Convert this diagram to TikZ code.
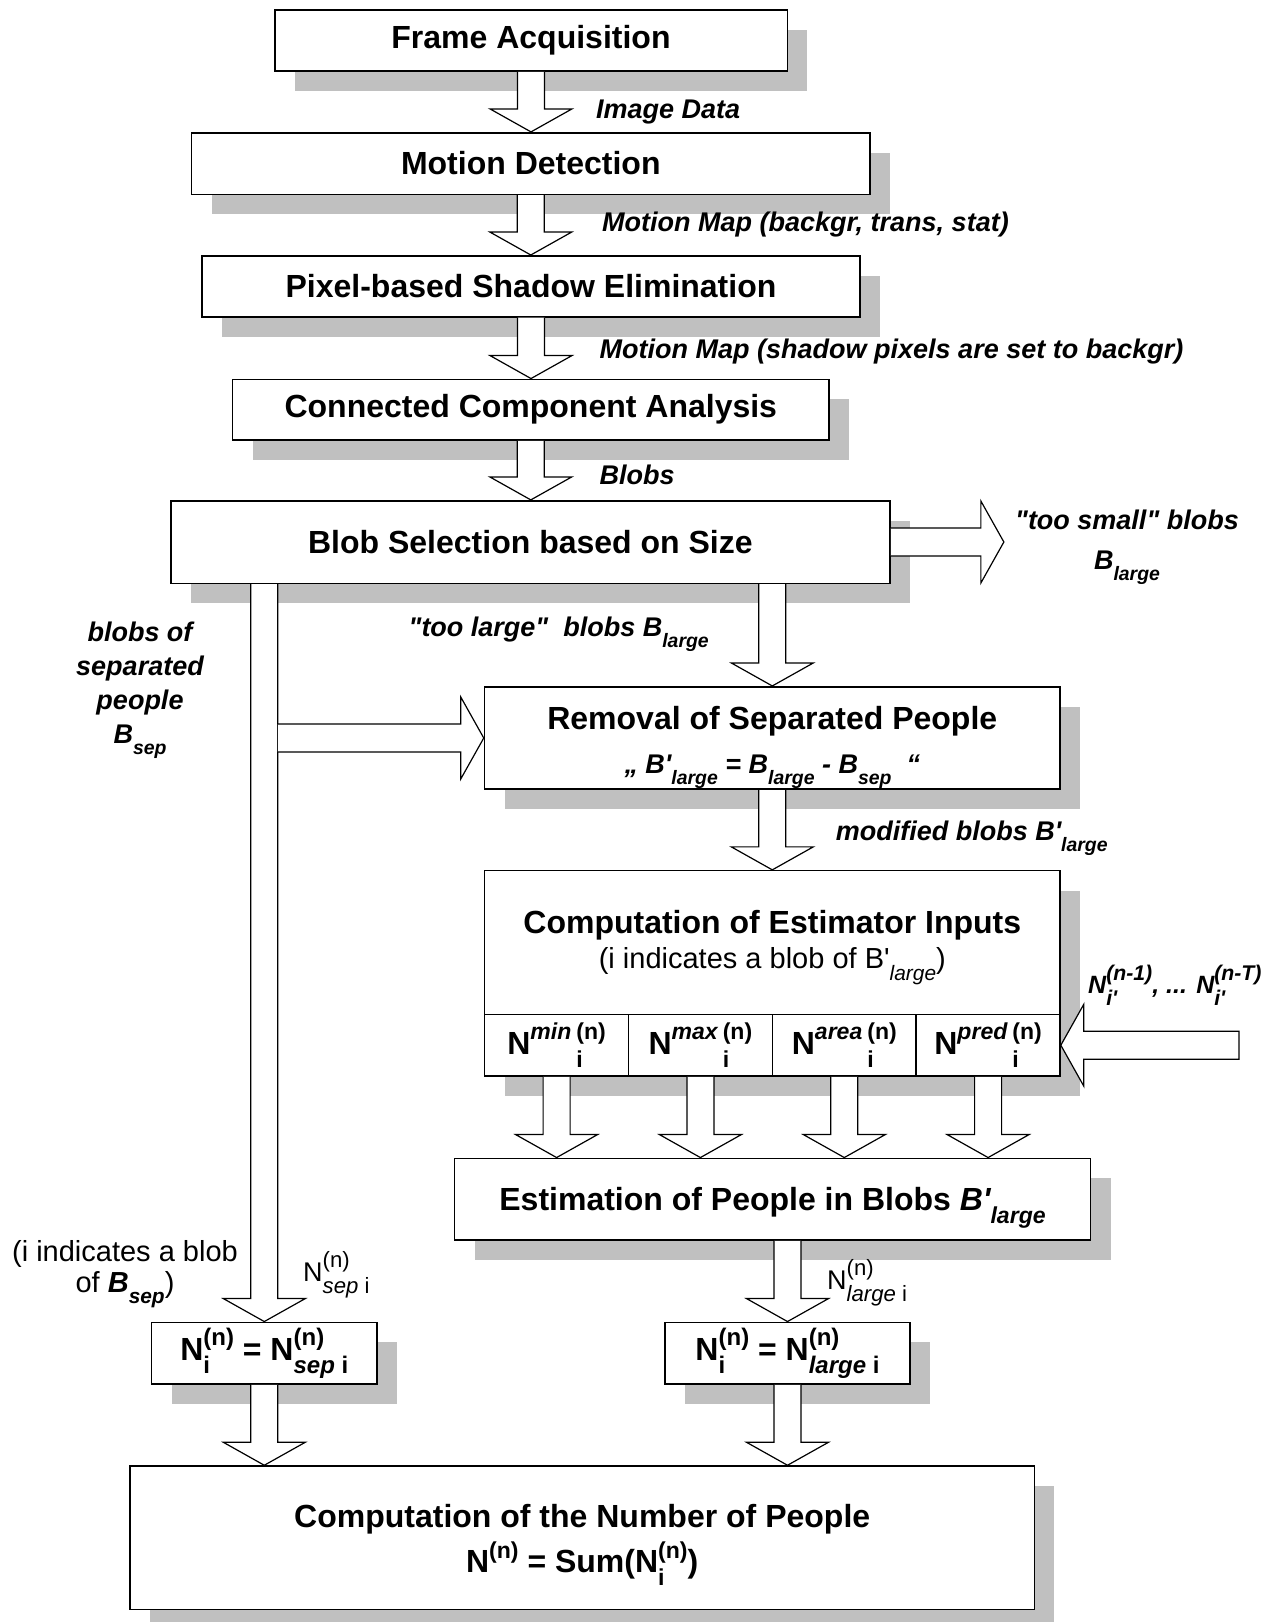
\documentclass[tikz,border=0pt]{standalone}
\usepackage{fontspec}
\setmainfont{Liberation Sans}[Ligatures=TeXOff]
\usetikzlibrary{shadows,calc}
\definecolor{shgray}{RGB}{192,192,192}
\makeatletter
\newcommand\stk[3][0.72]{{%
  \dimen@=\f@size pt \dimen@=#1\dimen@
  \edef\stksz{\strip@pt\dimen@}%
  \fontsize{\stksz}{\stksz}\selectfont
  \setbox0\hbox{\raisebox{-0.55em}{#2}}%
  \setbox2\hbox{\raisebox{0.64em}{#3}}%
  \ifdim\wd0>\wd2 \rlap{\box2}\box0 \else\rlap{\box0}\box2 \fi}}
\makeatother
\newcommand\boxfont{\fontsize{32}{44}\selectfont\bfseries}
\newcommand\labfont{\fontsize{27}{34}\selectfont\bfseries\itshape}
\newcommand\regfont{\fontsize{29}{31}\selectfont}
\newcommand\nfont{\fontsize{32}{34}\selectfont\bfseries}
\newcommand\nlabfont{\fontsize{27}{30}\selectfont}
\newcommand\hisfont{\fontsize{25}{28}\selectfont\bfseries\itshape}
\newcommand\bdown[2]{%
  \path[barrow] let \p1=#1, \p2=#2 in
    (\x1-13.5pt,\y1) -- (\x1-13.5pt,\y2+23pt) -- (\x1-41pt,\y2+23pt) -- (\x1,\y2)
    -- (\x1+41pt,\y2+23pt) -- (\x1+13.5pt,\y2+23pt) -- (\x1+13.5pt,\y1);}
\newcommand\bright[2]{%
  \path[barrow] let \p1=#1, \p2=#2 in
    (\x1,\y1+14pt) -- (\x2-23pt,\y1+14pt) -- (\x2-23pt,\y1+41pt) -- (\x2,\y1)
    -- (\x2-23pt,\y1-41pt) -- (\x2-23pt,\y1-14pt) -- (\x1,\y1-14pt);}
\newcommand\bleft[2]{%
  \path[barrow] let \p1=#1, \p2=#2 in
    (\x1,\y1+14pt) -- (\x2+23pt,\y1+14pt) -- (\x2+23pt,\y1+41pt) -- (\x2,\y1)
    -- (\x2+23pt,\y1-41pt) -- (\x2+23pt,\y1-14pt) -- (\x1,\y1-14pt) -- cycle;}
\begin{document}
\begin{tikzpicture}[x=1pt,y=-1pt,
  box/.style={draw, line width=1.6pt, fill=white, inner sep=0pt, align=center,
    general shadow={fill=shgray, shadow xshift=20pt, shadow yshift=-20pt}, font=\boxfont},
  cell/.style={draw, line width=1.6pt, inner sep=0pt, minimum width=143.85pt,
    minimum height=61.7pt, font=\boxfont},
  lab/.style={inner sep=0pt, font=\labfont},
  barrow/.style={draw=black, fill=white, line width=1.2pt, line join=miter, miter limit=10}]
\fill[white] (0,0) rectangle (1284,1622);
\useasboundingbox (0,0) rectangle (1284,1622);
% boxes
\node[box, minimum width=512.6pt, minimum height=61pt] (fa) at (531,40.5) {Frame Acquisition};
\node[box, minimum width=678.5pt, minimum height=61.6pt] (md) at (530.8,163.5) {Motion Detection};
\node[box, minimum width=658pt, minimum height=61pt] (ps) at (531,286.3) {Pixel-based Shadow Elimination};
\node[box, minimum width=596.4pt, minimum height=60.7pt] (cc) at (530.8,409.7) {Connected Component Analysis};
\node[box, minimum width=719.3pt, minimum height=82.6pt] (bs) at (530.4,542) {Blob Selection based on Size};
\node[box, minimum width=575.5pt, minimum height=102.5pt] (rm) at (772.3,738)
  {\rule{0pt}{42pt}Removal of Separated People\\{\fontsize{27}{28}\selectfont\itshape „ B'\stk{large}{} = B\stk{large}{} - B\stk{sep}{}\ \ “}};
\node[box, minimum width=575.5pt, minimum height=205.3pt] (ce) at (772.3,973.3) {};
\node[font=\boxfont, inner sep=0pt] (cet) at (772.3,925) {Computation of Estimator Inputs};
\node[font=\regfont, inner sep=0pt] (ces) at (772.3,966) {(i indicates a blob of B'\stk{\itshape large}{})};
\node[cell] (c1) at (556.6,1045.2) {N\stk{}{\itshape min}\hspace{5pt}\stk{i}{(n)}};
\node[cell] (c2) at (700.4,1045.2) {N\stk{}{\itshape max}\hspace{5pt}\stk{i}{(n)}};
\node[cell] (c3) at (844.3,1045.2) {N\stk{}{\itshape area}\hspace{5pt}\stk{i}{(n)}};
\node[cell] (c4) at (988.1,1045.2) {N\stk{}{\itshape pred}\hspace{5pt}\stk{i}{(n)}};
\node[box, minimum width=636pt, minimum height=81.7pt, text depth=0pt] (es) at (772.5,1199.2)
  {Estimation of People in Blobs {\itshape B'}\stk{\itshape large}{}};
\node[box, minimum width=225.5pt, minimum height=61.7pt, font=\nfont] (ns) at (264.3,1353.2)
  {N\stk[0.75]{i}{(n)} = N\stk[0.75]{{\itshape sep} i}{(n)}};
\node[box, minimum width=245pt, minimum height=61.7pt, font=\nfont] (nl) at (787.5,1353.2)
  {N\stk[0.75]{i}{(n)} = N\stk[0.75]{{\itshape large} i}{(n)}};
\node[box, minimum width=904.4pt, minimum height=143.3pt, font=\fontsize{32}{45}\selectfont\bfseries] (fn) at (582.2,1537.7)
  {\rule{0pt}{38pt}Computation of the Number of People\\N\stk{}{(n)} = Sum(N\stk{i}{(n)})};
% free ends
\coordinate (smalltip) at ($(bs.east)+(113,0)$);
\coordinate (prevsrc) at (1239,1045.2);
% block arrows
\bdown{(fa.south)}{(md.north)}
\bdown{(md.south)}{(ps.north)}
\bdown{(ps.south)}{(cc.north)}
\bdown{(cc.south)}{(bs.north)}
\bdown{(bs.south -| rm.north)}{(rm.north)}
\bdown{(bs.south -| ns.north)}{(ns.north)}
\bright{($(ns.north |- rm.west)+(13.5,0)$)}{(rm.west)}
\bright{(bs.east)}{(smalltip)}
\bdown{(rm.south)}{(ce.north)}
\bdown{(c1.south)}{(c1.south |- es.north)}
\bdown{(c2.south)}{(c2.south |- es.north)}
\bdown{(c3.south)}{(c3.south |- es.north)}
\bdown{(c4.south)}{(c4.south |- es.north)}
\bleft{(prevsrc)}{(c4.east)}
\bdown{(es.south -| nl.north)}{(nl.north)}
\bdown{(ns.south)}{(ns.south |- fn.north)}
\bdown{(nl.south)}{(nl.south |- fn.north)}
% labels
\node[lab, anchor=west] (l1) at (596,112) {Image Data};
\node[lab, anchor=west] (l2) at (602,225) {Motion Map (backgr, trans, stat)};
\node[lab, anchor=west] (l3) at (599.5,352) {Motion Map (shadow pixels are set to backgr)};
\node[lab, anchor=west] (l4) at (599.5,475) {Blobs};
\node[lab, align=center, font=\fontsize{27}{40}\selectfont\bfseries\itshape] (l5) at (1127,547) {"too small" blobs\\B\stk{large}{}};
\node[lab, align=center] (l6) at (140,690) {blobs of\\separated\\people\\B\stk{sep}{}};
\node[lab, anchor=west] (l7) at (408.5,634) {"too large"\ \ blobs B\stk{large}{}};
\node[lab, anchor=west] (l8) at (835.6,838) {modified blobs B'\stk{large}{}};
\node[font=\hisfont, anchor=west, inner sep=0pt] (l9) at (1088,985)
  {N\stk[0.85]{i'}{(n-1)}, ... N\stk[0.85]{i'}{(n-T)}};
\node[font=\regfont, align=center, inner sep=0pt] (l10) at (125,1274)
  {(i indicates a blob\\of {\bfseries\itshape B}\stk{\bfseries\itshape sep}{})};
\node[font=\nlabfont, anchor=west, inner sep=0pt] (l11) at (303,1275) {N\stk[0.82]{{\itshape sep} i}{(n)}};
\node[font=\nlabfont, anchor=west, inner sep=0pt] (l12) at (827,1283) {N\stk[0.82]{{\itshape large} i}{(n)}};
\end{tikzpicture}
\end{document}
